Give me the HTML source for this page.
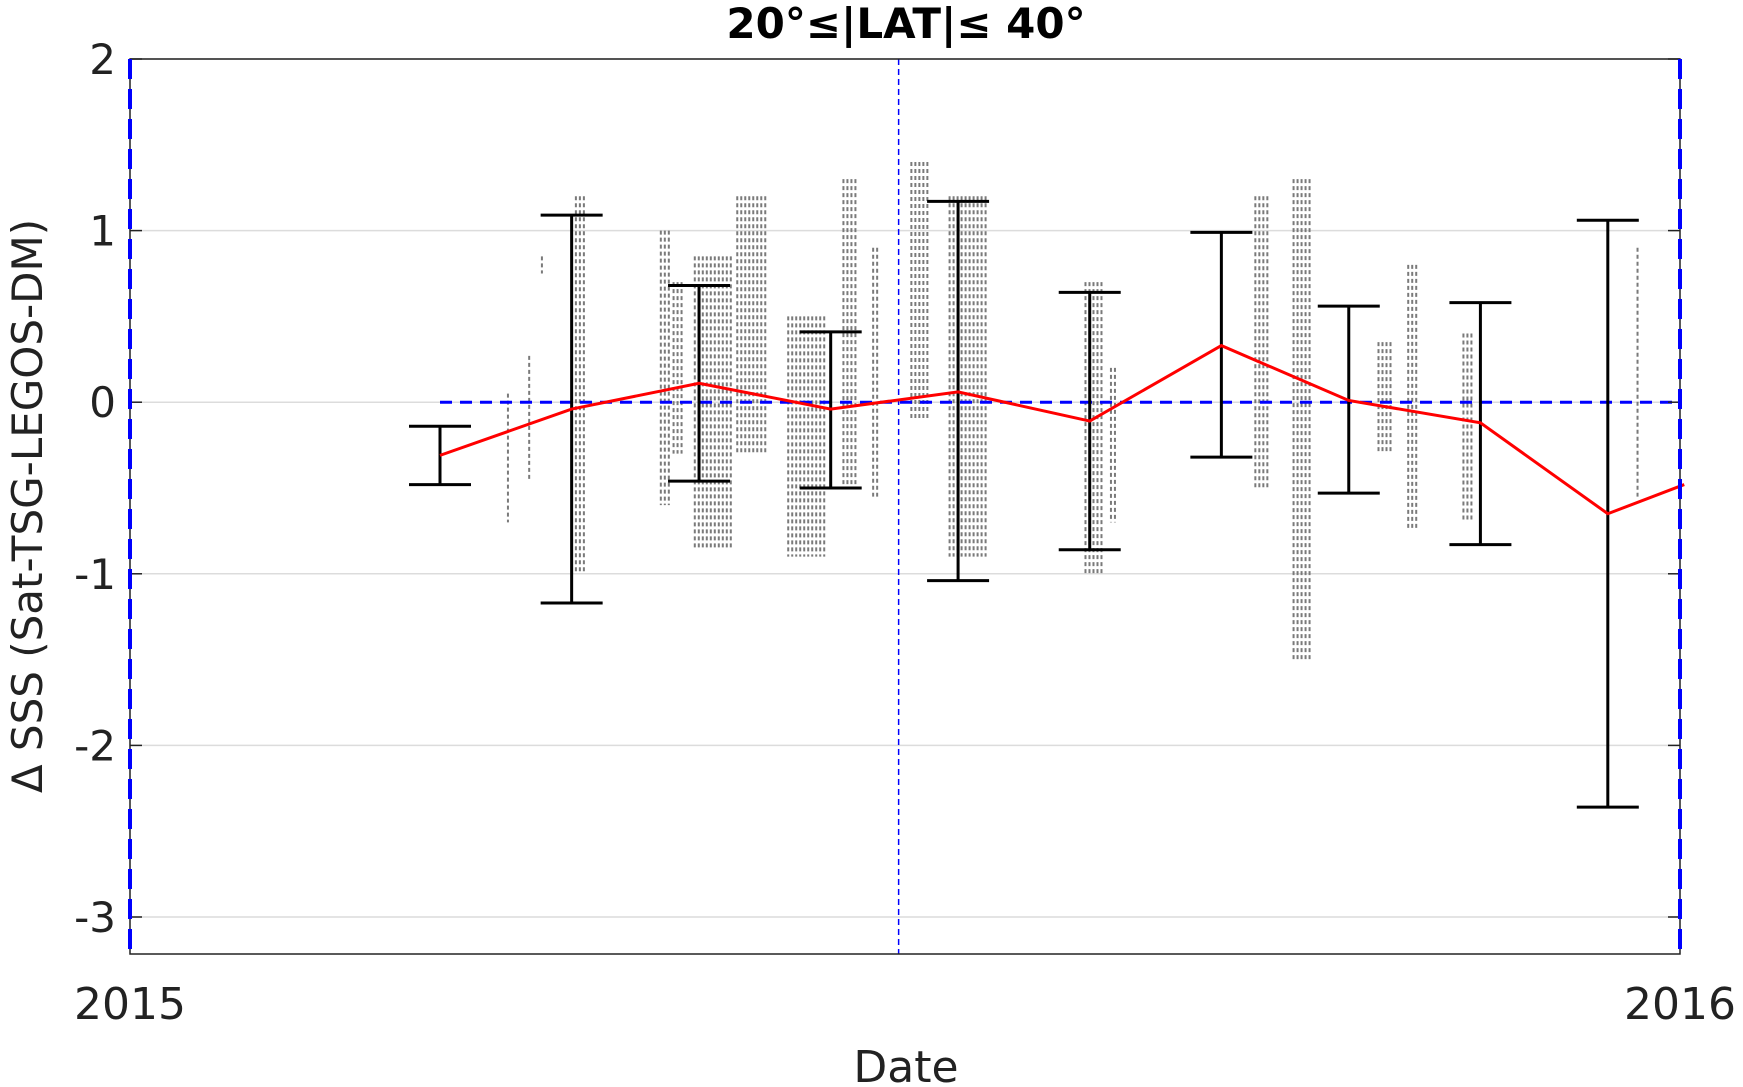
<!DOCTYPE html>
<html><head><meta charset="utf-8"><style>
html,body{margin:0;padding:0;background:#fff;width:1743px;height:1087px;overflow:hidden}
svg{display:block;font-family:"DejaVu Sans","Liberation Sans",sans-serif}
</style></head><body>
<svg id="chart" width="1743" height="1087">
<text x="906" y="38" text-anchor="middle" font-size="42" font-weight="bold">20°≤|LAT|≤ 40°</text>
<text transform="translate(42,506) rotate(-90)" text-anchor="middle" font-size="42" fill="#222">Δ SSS (Sat-TSG-LEGOS-DM)</text>
<text x="906" y="1082" text-anchor="middle" font-size="44" fill="#222">Date</text>
<g id="grid"></g><g id="scatter"></g><g id="marks"></g><g id="axes"></g>
</svg>
<script>
const yTicks=[2,1,0,-1,-2,-3];
const xTickLabels=["2015","2016"];
const binDays=[73,104,134,165,195,226,257,287,318,348];
const binMean=[-0.31,-0.04,0.11,-0.04,0.06,-0.11,0.33,0.01,-0.12,-0.65];
const binUpper=[-0.14,1.09,0.68,0.41,1.17,0.64,0.99,0.56,0.58,1.06];
const binLower=[-0.48,-1.17,-0.46,-0.50,-1.04,-0.86,-0.32,-0.53,-0.83,-2.36];
const lineDays=[73,104,134,165,195,226,257,287,318,348,366];
const lineMean=[-0.31,-0.04,0.11,-0.04,0.06,-0.11,0.33,0.01,-0.12,-0.65,-0.48];
const scatterStart=[89,94,97,105,125,128,133,143,155,168,175,184,193,225,231,265,274,294,301,314,355];
const scatterEnd=[89.5,94.5,97.5,107,127,130,142,150,164,171,176,188,202,229,232,268,278,297,303,316,355.5];
const scatterLo=[-0.7,-0.45,0.75,-1.0,-0.6,-0.3,-0.85,-0.3,-0.9,-0.5,-0.55,-0.1,-0.9,-1.0,-0.7,-0.5,-1.5,-0.3,-0.75,-0.7,-0.55];
const scatterHi=[0.05,0.27,0.85,1.2,1.0,0.7,0.85,1.2,0.5,1.3,0.9,1.4,1.2,0.7,0.2,1.2,1.3,0.35,0.8,0.4,0.9];
const L=130,R=1680,T=59,B=954;
const X=d=>L+(R-L)*d/365;
const Y=v=>T+(2-v)*171.6;
const NS="http://www.w3.org/2000/svg";
function mk(p,tag,a){const e=document.createElementNS(NS,tag);for(const k in a)e.setAttribute(k,a[k]);p.appendChild(e);return e;}
const grid=document.getElementById('grid'),sc=document.getElementById('scatter'),mg=document.getElementById('marks'),ax=document.getElementById('axes');
yTicks.forEach(v=>{
 const g=mk(grid,'line',{x1:L,x2:R,y1:Y(v),y2:Y(v),stroke:'#dcdcdc','stroke-width':1.5});
 
 
 const t=mk(ax,'text',{x:L-14,y:Y(v)+15,'text-anchor':'end','font-size':42,fill:'#222'});
 t.textContent=v;
 
 
 mk(ax,'line',{x1:L,x2:L+12,y1:Y(v),y2:Y(v),stroke:'#222','stroke-width':1.5});
 mk(ax,'line',{x1:R-12,x2:R,y1:Y(v),y2:Y(v),stroke:'#222','stroke-width':1.5});
});
xTickLabels.forEach((s,i)=>{
 const t=mk(ax,'text',{x:X(i*365),y:1019,'text-anchor':'middle','font-size':44,fill:'#222'});
 t.textContent=s;
 
 
});
scatterStart.forEach((s,i)=>{
 for(let x=X(s);x<=X(scatterEnd[i])+0.1;x+=4){
  const l=mk(sc,'line',{x1:x,x2:x,y1:Y(scatterHi[i]),y2:Y(scatterLo[i]),stroke:'#7a7a7a','stroke-width':2,'stroke-dasharray':'4 3'});
  
  
 }
});
let r=mk(mg,'line',{x1:X(73),x2:R,y1:Y(0),y2:Y(0),stroke:'#0000ff','stroke-width':3,'stroke-dasharray':'12 8'});


r=mk(mg,'line',{x1:X(181),x2:X(181),y1:T,y2:B,stroke:'#0000ff','stroke-width':1.5,'stroke-dasharray':'6 4'});


binDays.forEach((d,i)=>{
 const x=X(d);
 const g=mk(mg,'g',{stroke:'#000','stroke-width':3});
 
 
 mk(g,'line',{x1:x,x2:x,y1:Y(binUpper[i]),y2:Y(binLower[i])});
 mk(g,'line',{x1:x-31,x2:x+31,y1:Y(binUpper[i]),y2:Y(binUpper[i])});
 mk(g,'line',{x1:x-31,x2:x+31,y1:Y(binLower[i]),y2:Y(binLower[i])});
});
const pl=mk(mg,'polyline',{points:lineDays.map((d,i)=>X(d)+','+Y(lineMean[i])).join(' '),fill:'none',stroke:'#ff0000','stroke-width':3});


const fr=mk(ax,'rect',{x:L,y:T,width:R-L,height:B-T,fill:'none',stroke:'#222','stroke-width':1.5});


[L,R].forEach(x=>{
 const e=mk(ax,'line',{x1:x,x2:x,y1:T,y2:B,stroke:'#0000ff','stroke-width':4,'stroke-dasharray':'20 10'});
 
 
});
</script>
</body></html>
